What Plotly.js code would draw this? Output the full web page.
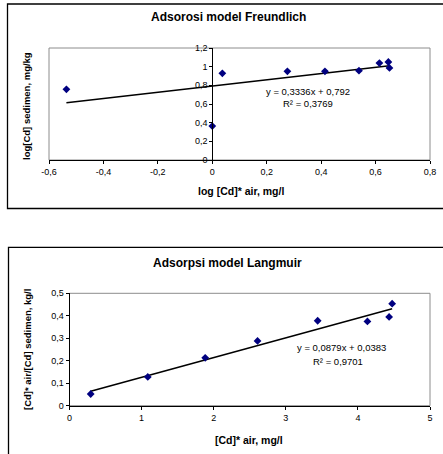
<!DOCTYPE html>
<html><head><meta charset="utf-8">
<script src="https://cdn.plot.ly/plotly-3.0.1.min.js"></script>
<style>html,body{margin:0;padding:0;background:#fff;overflow:hidden}#c{width:443px;height:454px}</style>
</head><body><div id="c"></div>
<script>
// Freundlich data
const frX = [-0.536, 0.000, 0.037, 0.276, 0.414, 0.539, 0.614, 0.647, 0.651];
const frY = [0.757, 0.364, 0.929, 0.950, 0.950, 0.957, 1.039, 1.050, 0.986];
const frSlope = 0.3336, frIntercept = 0.792;
const frXTicks = [-0.6, -0.4, -0.2, 0, 0.2, 0.4, 0.6, 0.8];
const frXTickText = ['-0,6', '-0,4', '-0,2', '0', '0,2', '0,4', '0,6', '0,8'];
const frYTicks = [0, 0.2, 0.4, 0.6, 0.8, 1, 1.2];
const frYTickText = ['0', '0,2', '0,4', '0,6', '0,8', '1', '1,2'];
// Langmuir data
const laX = [0.294, 1.086, 1.882, 2.608, 3.442, 4.132, 4.433, 4.475];
const laY = [0.052, 0.128, 0.213, 0.288, 0.378, 0.375, 0.395, 0.454];
const laSlope = 0.0879, laIntercept = 0.0383;
const laXTicks = [0, 1, 2, 3, 4, 5];
const laXTickText = ['0', '1', '2', '3', '4', '5'];
const laYTicks = [0, 0.1, 0.2, 0.3, 0.4, 0.5];
const laYTickText = ['0', '0,1', '0,2', '0,3', '0,4', '0,5'];

const W = 443, H = 454;
const px = x => x / W, py = y => 1 - y / H;
const FONT = 'Liberation Sans, Arial, sans-serif';
const NAVY = '#000080';

function trend(xs, m, b) {
  const lo = Math.min(...xs), hi = Math.max(...xs);
  return {x: [lo, hi], y: [m * lo + b, m * hi + b]};
}
const frT = trend(frX, frSlope, frIntercept);
const laT = trend(laX, laSlope, laIntercept);

const marker = {symbol: 'diamond', size: 6, color: NAVY, line: {width: 0}};
const data = [
  {x: frT.x, y: frT.y, mode: 'lines', line: {color: '#000', width: 1.5}, xaxis: 'x', yaxis: 'y', hoverinfo: 'skip'},
  {x: frX, y: frY, mode: 'markers', marker: marker, xaxis: 'x', yaxis: 'y'},
  {x: laT.x, y: laT.y, mode: 'lines', line: {color: '#000', width: 1.5}, xaxis: 'x2', yaxis: 'y2', hoverinfo: 'skip'},
  {x: laX, y: laY, mode: 'markers', marker: marker, xaxis: 'x2', yaxis: 'y2'}
];

const tickF = {family: FONT, size: 9, color: '#000'};
const xd1 = [px(49), px(430)];
const xr1 = [-0.6, 0.8];
const yPos1 = xd1[0] + (xd1[1] - xd1[0]) * (0 - xr1[0]) / (xr1[1] - xr1[0]);

const axBase = {showgrid: false, zeroline: false, showline: true, linecolor: '#000', linewidth: 1,
  ticks: 'outside', ticklen: 3, tickcolor: '#000', tickfont: tickF, fixedrange: true};

const layout = {
  width: W, height: H,
  margin: {l: 0, r: 0, t: 0, b: 0, autoexpand: false},
  paper_bgcolor: '#fff', plot_bgcolor: 'rgba(0,0,0,0)',
  showlegend: false,
  font: {family: FONT, color: '#000'},
  xaxis: Object.assign({}, axBase, {domain: xd1, range: xr1, tickvals: frXTicks, ticktext: frXTickText, anchor: 'y'}),
  yaxis: Object.assign({}, axBase, {domain: [py(160), py(48)], range: [0, 1.2], tickvals: frYTicks, ticktext: frYTickText, anchor: 'free', position: yPos1}),
  xaxis2: Object.assign({}, axBase, {domain: [px(69.5), px(430)], range: [0, 5], tickvals: laXTicks, ticktext: laXTickText, anchor: 'y2'}),
  yaxis2: Object.assign({}, axBase, {domain: [py(405.7), py(293.3)], range: [0, 0.5], tickvals: laYTicks, ticktext: laYTickText, anchor: 'x2'}),
  shapes: [
    {type: 'rect', xref: 'x domain', yref: 'y domain', x0: 0, x1: 1, y0: 0, y1: 1, line: {color: '#8c8c8c', width: 1}, layer: 'below'},
    {type: 'rect', xref: 'x2 domain', yref: 'y2 domain', x0: 0, x1: 1, y0: 0, y1: 1, line: {color: '#8c8c8c', width: 1}, layer: 'below'},
    {type: 'rect', xref: 'paper', yref: 'paper', x0: px(7.5), x1: 1.02, y0: py(208.5), y1: py(4), line: {color: '#000', width: 1.3}},
    {type: 'rect', xref: 'paper', yref: 'paper', x0: px(8.5), x1: 1.02, y0: -0.02, y1: py(247.3), line: {color: '#000', width: 1.3}}
  ],
  annotations: [
    {text: '<b>Adsorosi model Freundlich</b>', xref: 'paper', yref: 'paper', x: px(228), y: py(17), showarrow: false, font: {size: 12}, xanchor: 'center', yanchor: 'middle'},
    {text: '<b>log [Cd]* air, mg/l</b>', xref: 'paper', yref: 'paper', x: px(241), y: py(191), showarrow: false, font: {size: 10.5}, xanchor: 'center', yanchor: 'middle'},
    {text: '<b>log[Cd] sedimen, mg/kg</b>', xref: 'paper', yref: 'paper', x: px(26), y: py(106), showarrow: false, font: {size: 9.5}, textangle: -90, xanchor: 'center', yanchor: 'middle'},
    {text: 'y = 0,3336x + 0,792', xref: 'paper', yref: 'paper', x: px(308), y: py(91), showarrow: false, font: {size: 9.5}, xanchor: 'center', yanchor: 'middle'},
    {text: 'R² = 0,3769', xref: 'paper', yref: 'paper', x: px(308), y: py(103), showarrow: false, font: {size: 9.5}, xanchor: 'center', yanchor: 'middle'},
    {text: '<b>Adsorpsi model Langmuir</b>', xref: 'paper', yref: 'paper', x: px(227.5), y: py(263.3), showarrow: false, font: {size: 12}, xanchor: 'center', yanchor: 'middle'},
    {text: '<b>[Cd]* air, mg/l</b>', xref: 'paper', yref: 'paper', x: px(249), y: py(440), showarrow: false, font: {size: 10.5}, xanchor: 'center', yanchor: 'middle'},
    {text: '<b>[Cd]* air/[Cd] sedimen, kg/l</b>', xref: 'paper', yref: 'paper', x: px(27), y: py(350), showarrow: false, font: {size: 9.5}, textangle: -90, xanchor: 'center', yanchor: 'middle'},
    {text: 'y = 0,0879x + 0,0383', xref: 'paper', yref: 'paper', x: px(341.7), y: py(347.7), showarrow: false, font: {size: 9.5}, xanchor: 'center', yanchor: 'middle'},
    {text: 'R² = 0,9701', xref: 'paper', yref: 'paper', x: px(338), y: py(361), showarrow: false, font: {size: 9.5}, xanchor: 'center', yanchor: 'middle'}
  ]
};

Plotly.newPlot('c', data, layout, {displayModeBar: false, staticPlot: true});
</script>
</body></html>
